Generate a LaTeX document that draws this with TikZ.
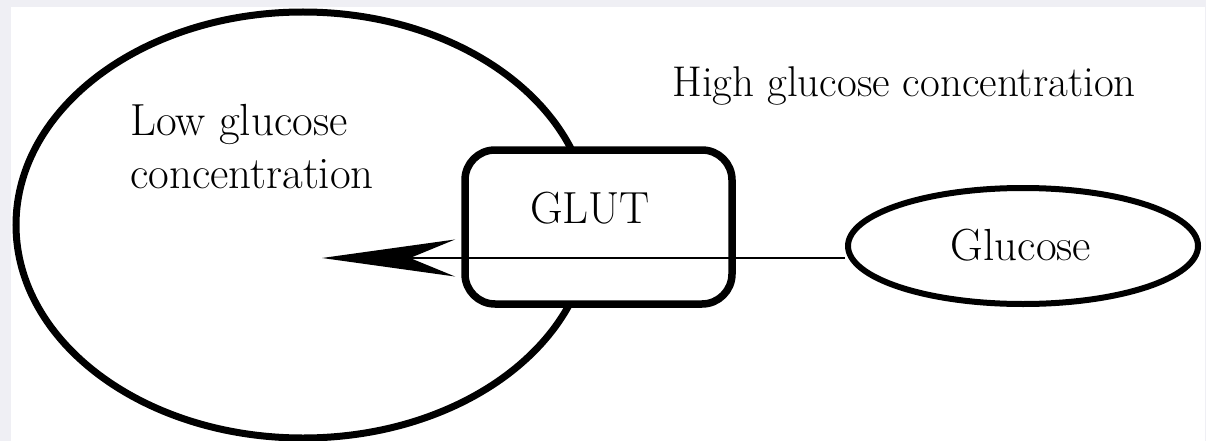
\documentclass[tikz,border=0pt]{standalone}
\usepackage{fontspec}
\usetikzlibrary{shapes.geometric,arrows.meta}
\definecolor{bgray}{HTML}{EFEFF4}
\tikzset{
  shapeline/.style={draw=black, line width=7pt},
  lbl/.style={font=\fontsize{45}{53}\selectfont, inner sep=0pt, anchor=base west, align=left},
}
\begin{document}
\begin{tikzpicture}[x=1pt,y=-1pt]
\useasboundingbox (0,0) rectangle (1206,441);
\fill[bgray] (0,0) rectangle (1206,441);
\fill[white] (11,7) rectangle (1205,441);
% big cell ellipse
\node[shapeline, ellipse, inner sep=0pt, minimum width=574pt, minimum height=426pt] (cell) at (303,225) {};
% GLUT box
\node[shapeline, line width=7.5pt, fill=white, rectangle, rounded corners=30pt, inner sep=0pt, minimum width=267pt, minimum height=154pt] (glut) at (598.5,227) {};
\node[lbl, anchor=base] (gluttxt) at (590,223) {GLUT};
% glucose ellipse
\node[shapeline, line width=6pt, ellipse, inner sep=0pt, minimum width=350pt, minimum height=116pt] (glucose) at (1023,246) {};
\node[lbl, anchor=base] (glutxt) at (1021,260) {Glucose};
% labels
\node[lbl] (low) at (130,188) {Low glucose\\concentration};
\node[lbl, font=\fontsize{43}{53}\selectfont] (high) at (672,97) {High glucose concentration};
% arrow
\coordinate (tip) at (322,258);
\draw[line width=2.5pt, -{Stealth[length=133pt, width=37pt, inset=45pt]}] (glucose.west |- 0,258) -- (tip);
\end{tikzpicture}
\end{document}
